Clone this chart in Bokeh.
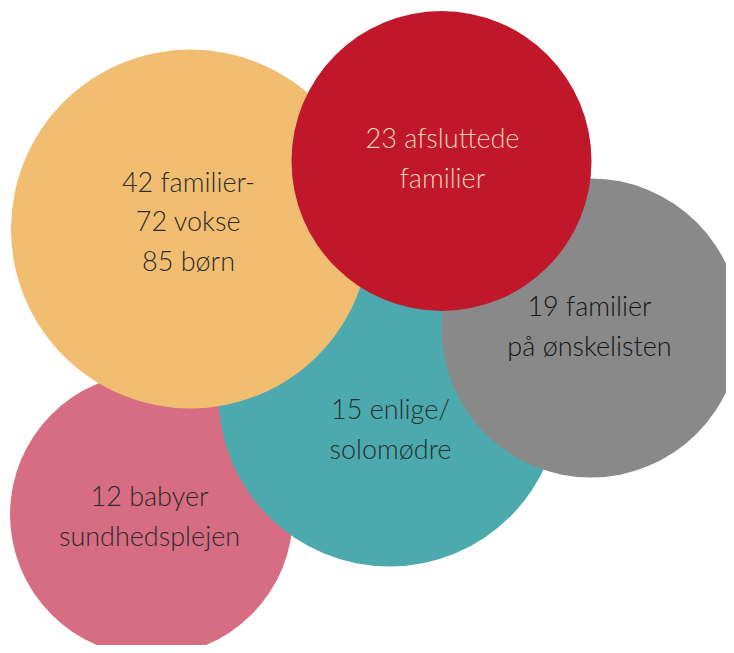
from bokeh.plotting import figure
from bokeh.models import Range1d, ColumnDataSource
from bokeh.core.properties import value
from bokeh.embed import file_html
from bokeh.resources import INLINE

# ---- data ----
groups = ["familier", "afsluttede", "ønskelisten", "enlige", "babyer"]
counts = [42, 23, 19, 15, 12]
label_lines = [
    ["42 familier-", "72 vokse", "85 børn"],
    ["23 afsluttede", "familier"],
    ["19 familier", "på ønskelisten"],
    ["15 enlige/", "solomødre"],
    ["12 babyer", "sundhedsplejen"],
]
colors = ["#F1BE71", "#C0172A", "#898989", "#4CA9AD", "#D66D82"]
text_colors = ["#2B2B2B", "#F7D3B4", "#151515", "#263033", "#2B2B2B"]

# ---- layout (pixel-like data space) ----
cx = [190, 441, 590.5, 389, 151]
cy = [228.5, 160.5, 327.5, 395, 514]
rad = [179.5, 150, 149.5, 171, 141.5]
tx = [188, 442, 589, 390, 149]
ty = [220, 157, 325, 428, 515]
line_gap = 39.5
draw_order = [4, 3, 2, 0, 1]  # pink, teal, gray, orange, red

W, H = 726, 645
p = figure(width=W, height=H, output_backend="svg", toolbar_location=None,
           x_range=Range1d(0, W), y_range=Range1d(H, 0),
           min_border=0, outline_line_color=None)
p.axis.visible = False
p.grid.visible = False
p.background_fill_color = "white"

for i in draw_order:
    src = ColumnDataSource(dict(x=[cx[i]], y=[cy[i]], r=[rad[i]]))
    p.circle(x="x", y="y", radius="r", source=src, fill_color=colors[i],
             line_color=None)

xs, ys, txt, tc = [], [], [], []
for i, lines in enumerate(label_lines):
    n = len(lines)
    for k, s in enumerate(lines):
        xs.append(tx[i])
        ys.append(ty[i] + (k - (n - 1) / 2) * line_gap)
        txt.append(s)
        tc.append(text_colors[i])

tsrc = ColumnDataSource(dict(x=xs, y=ys, t=txt, c=tc))
p.text(x="x", y="y", text="t", source=tsrc, text_color="c",
       text_align="center", text_baseline="middle",
       text_font=value("Lato Light"), text_font_size="27px")

open("out.html", "w").write(file_html(p, INLINE))
